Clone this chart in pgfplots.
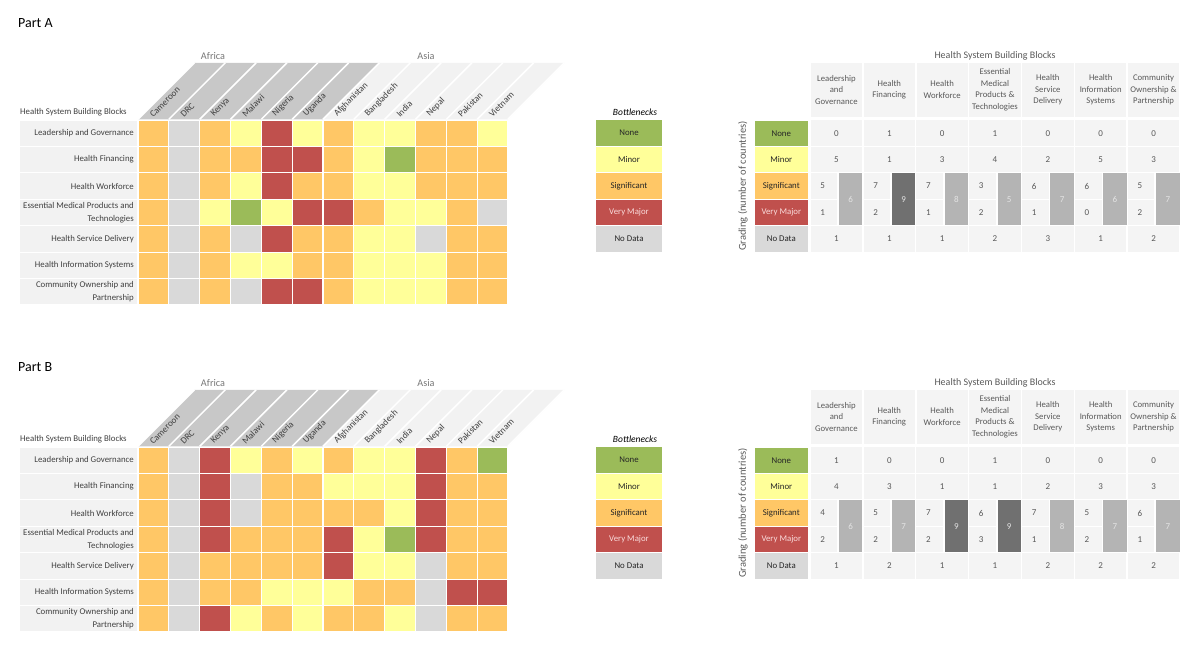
\documentclass[border=0pt]{standalone}
\usepackage{pgfplots}
\pgfplotsset{compat=1.18}
\usepackage{pgfplotstable}
\usepackage{fontspec}
\setmainfont{Carlito}

\definecolor{cNone}{RGB}{155,187,89}
\definecolor{cMinor}{RGB}{255,255,153}
\definecolor{cSig}{RGB}{255,199,102}
\definecolor{cVM}{RGB}{192,80,77}
\definecolor{cND}{RGB}{217,217,217}
\definecolor{lbg}{RGB}{242,242,242}
\definecolor{tbg}{RGB}{244,244,244}
\definecolor{afr}{RGB}{200,200,200}
\definecolor{txt}{RGB}{64,64,64}
\definecolor{dtxt}{RGB}{38,38,38}
\definecolor{num}{RGB}{89,89,89}
\definecolor{grayt}{RGB}{118,118,118}
\definecolor{barL}{RGB}{180,180,180}
\definecolor{barD}{RGB}{112,112,112}
\definecolor{bartxt}{RGB}{228,228,228}
\definecolor{vmtxt}{RGB}{250,220,220}

% ---------- data ----------
% heatmap: y = 6 - row (LG at top); codes N none, Mi minor, S significant, VM very major, ND no data
\pgfplotstableread{
y Cam DRC Ken Mal Nig Uga Afg Ban Ind Nep Pak Vie
6 S ND S Mi VM Mi S Mi Mi S S Mi
5 S ND S S VM VM S Mi N S S S
4 S ND S Mi VM S S Mi Mi S S S
3 S ND Mi N Mi VM VM S Mi Mi S ND
2 S ND S ND VM S S Mi Mi ND S S
1 S ND S Mi Mi S S Mi Mi Mi S S
0 S ND S ND VM VM S Mi Mi Mi S S
}\heatA
\pgfplotstableread{
y Cam DRC Ken Mal Nig Uga Afg Ban Ind Nep Pak Vie
6 S ND VM Mi S Mi S Mi Mi VM S N
5 S ND VM ND S S Mi Mi Mi VM S S
4 S ND VM ND S S S S Mi VM S S
3 S ND VM S S S VM Mi N VM S S
2 S ND S S S S VM Mi Mi ND S S
1 S ND S S Mi Mi Mi S S ND VM VM
0 S ND VM Mi S Mi S S Mi ND S S
}\heatB
% grading counts per building block
\pgfplotstableread{
x none minor sig vm nd tot shade
0 0 5 5 1 1 6 L
1 1 1 7 2 1 9 D
2 0 3 7 1 1 8 L
3 1 4 3 2 2 5 L
4 0 2 6 1 3 7 L
5 0 5 6 0 1 6 L
6 0 3 5 2 2 7 L
}\tabA
\pgfplotstableread{
x none minor sig vm nd tot shade
0 1 4 4 2 1 6 L
1 0 3 5 2 2 7 L
2 0 1 7 2 1 9 D
3 1 1 6 3 1 9 D
4 0 2 7 1 2 8 L
5 0 3 5 2 2 7 L
6 0 3 6 1 2 7 L
}\tabB

% ---------- helpers ----------
\newcommand{\pix}[2]{({(#1)*1pt},{(653-(#2))*1pt})}
\newcommand{\rowlbl}[1]{{\setlength{\fboxsep}{0pt}\colorbox{lbg}{\parbox[c][25.4pt][c]{114pt}{\raggedleft\fontsize{8.8}{13.5}\selectfont\color{txt}#1}\hspace{3pt}}}}
\newcommand{\gradelbl}[3]{{\setlength{\fboxsep}{0pt}\colorbox{#1}{\parbox[c][25.4pt][c]{53pt}{\centering\fontsize{8.8}{11}\selectfont\color{#2}#3}}}}
\newcommand{\hdr}[1]{{\setlength{\fboxsep}{0pt}\colorbox{tbg}{\parbox[c][54pt][c]{51.3pt}{\centering\fontsize{8.7}{11.7}\selectfont\color{num}#1}}}}
\newcommand{\legbox}[4]{\path \pix{629}{120.5+#1*26.43+12.7+\off} node[fill=#2, minimum width=66.3pt, minimum height=25.4pt, inner sep=0pt, text=#3, font=\fontsize{8.8}{10}\selectfont] {#4};}

\pgfplotsset{
  heatcell/.style={scatter, only marks, mark=square*, mark size=12.7pt,
    mark options={xscale=1.173, draw opacity=0}, point meta=explicit symbolic,
    scatter/classes={N={fill=cNone}, Mi={fill=cMinor},
      S={fill=cSig}, VM={fill=cVM}, ND={fill=cND}}},
  numcell/.style={only marks, mark=none, nodes near coords, point meta=explicit symbolic},
}

\newcommand{\panel}[3]{%
\def\off{#1}%
\path \pix{138}{120+\off} coordinate (hmpos);
\path \pix{810}{120+\off} coordinate (tbpos);
% region labels
\path \pix{213}{56+\off} node[font=\fontsize{10.2}{12}\selectfont, text=grayt, inner sep=0pt] {Africa};
\path \pix{426}{56+\off} node[font=\fontsize{10.2}{12}\selectfont, text=grayt, inner sep=0pt] {Asia};
% slanted country header bands
\foreach \i in {0,...,11}{%
  \pgfmathsetmacro\xa{138+\i*30.833}%
  \pgfmathsetmacro\xb{\xa+30.833}%
  \ifnum\i<6 \def\bc{afr}\else\def\bc{lbg}\fi
  \fill[\bc] \pix{\xa}{119.3+\off} -- \pix{\xb}{119.3+\off} -- \pix{\xb+56.5}{62.8+\off} -- \pix{\xa+56.5}{62.8+\off} -- cycle;
}%
\foreach \i in {0,...,12}{%
  \pgfmathsetmacro\xa{138+\i*30.833}%
  \draw[white, line width=1.5pt] \pix{\xa}{119.3+\off} -- \pix{\xa+56.5}{62.8+\off};
}%
\path \pix{20}{115+\off} node[anchor=base west, inner sep=0pt, font=\fontsize{8.8}{10}\selectfont, text=txt] {Health System Building Blocks};
% legend
\path \pix{635}{112+\off} node[font=\itshape\fontsize{9.5}{11}\selectfont, inner sep=0pt] {Bottlenecks};
\legbox{0}{cNone}{dtxt}{None}
\legbox{1}{cMinor}{dtxt}{Minor}
\legbox{2}{cSig}{dtxt}{Significant}
\legbox{3}{cVM}{vmtxt}{Very Major}
\legbox{4}{cND}{dtxt}{No Data}
% right table titles
\path \pix{995}{56+\off} node[font=\fontsize{10}{12}\selectfont, text=num, inner sep=0pt] {Health System Building Blocks};
\path \pix{743}{186+\off} node[rotate=90, font=\fontsize{10.5}{12}\selectfont, text=num, inner sep=0pt] {Grading (number of countries)};
% right table cell backgrounds
\foreach \c in {0,...,6}{%
  \pgfmathsetmacro\L{810.75+\c*52.857}%
  \foreach \r in {0,1,4}{%
    \pgfmathsetmacro\T{120.5+\r*26.43+\off}%
    \fill[tbg] \pix{\L}{\T} rectangle \pix{\L+51.4}{\T+25.4};
  }%
  \foreach \r in {2,3}{%
    \pgfmathsetmacro\T{120.5+\r*26.43+\off}%
    \fill[tbg] \pix{\L}{\T} rectangle \pix{\L+26.5}{\T+25.4};
  }%
}%
% heatmap
\begin{axis}[
  at={(hmpos)}, anchor=north west,
  width=370pt, height=185pt, scale only axis,
  xmin=-0.5, xmax=11.5, ymin=-0.5, ymax=6.5,
  axis line style={draw=none}, major tick length=0pt, tick style={draw=none},
  clip=false,
  xtick={0,...,11},
  xticklabels={Cameroon,DRC,Kenya,Malawi,Nigeria,Uganda,Afghanistan,Bangladesh,India,Nepal,Pakistan,Vietnam},
  xticklabel pos=right,
  xticklabel style={xshift=0pt, yshift=2pt, rotate=45, anchor=south west, inner sep=0pt, font=\fontsize{9.1}{10}\selectfont, text=txt},
  ytick={0,...,6},
  yticklabels={{\rowlbl{Community Ownership and\\Partnership}},{\rowlbl{Health Information Systems}},{\rowlbl{Health Service Delivery}},{\rowlbl{Essential Medical Products and\\Technologies}},{\rowlbl{Health Workforce}},{\rowlbl{Health Financing}},{\rowlbl{Leadership and Governance}}},
  yticklabel style={anchor=east, inner sep=0pt, xshift=-1pt},
]
\addplot[heatcell] table[x expr=0, y=y, meta=Cam] {#2};
\addplot[heatcell] table[x expr=1, y=y, meta=DRC] {#2};
\addplot[heatcell] table[x expr=2, y=y, meta=Ken] {#2};
\addplot[heatcell] table[x expr=3, y=y, meta=Mal] {#2};
\addplot[heatcell] table[x expr=4, y=y, meta=Nig] {#2};
\addplot[heatcell] table[x expr=5, y=y, meta=Uga] {#2};
\addplot[heatcell] table[x expr=6, y=y, meta=Afg] {#2};
\addplot[heatcell] table[x expr=7, y=y, meta=Ban] {#2};
\addplot[heatcell] table[x expr=8, y=y, meta=Ind] {#2};
\addplot[heatcell] table[x expr=9, y=y, meta=Nep] {#2};
\addplot[heatcell] table[x expr=10, y=y, meta=Pak] {#2};
\addplot[heatcell] table[x expr=11, y=y, meta=Vie] {#2};
\end{axis}
% grading table
\begin{axis}[
  at={(tbpos)}, anchor=north west,
  width=370pt, height=132.15pt, scale only axis,
  xmin=-0.5, xmax=6.5, ymin=-0.5, ymax=4.5,
  axis line style={draw=none}, major tick length=0pt, tick style={draw=none},
  clip=false,
  xtick={0,...,6},
  xticklabels={{\hdr{Leadership\\and\\Governance}},{\hdr{Health\\Financing}},{\hdr{Health\\Workforce}},{\hdr{Essential\\Medical\\Products \&\\Technologies}},{\hdr{Health\\Service\\Delivery}},{\hdr{Health\\Information\\Systems}},{\hdr{Community\\Ownership \&\\Partnership}}},
  xticklabel pos=right,
  xticklabel style={anchor=south, inner sep=0pt, yshift=3pt},
  ytick={0,...,4},
  yticklabels={{\gradelbl{cND}{dtxt}{No Data}},{\gradelbl{cVM}{vmtxt}{Very Major}},{\gradelbl{cSig}{dtxt}{Significant}},{\gradelbl{cMinor}{dtxt}{Minor}},{\gradelbl{cNone}{dtxt}{None}}},
  yticklabel style={anchor=east, inner sep=0pt, xshift=-2pt},
  every node near coord/.append style={anchor=center, font=\fontsize{9}{10}\selectfont, text=num},
]
\addplot[numcell] table[x=x, y expr=4, meta=none] {#3};
\addplot[numcell] table[x=x, y expr=3, meta=minor] {#3};
\addplot[numcell] table[x expr=\thisrow{x}-0.26, y expr=2, meta=sig] {#3};
\addplot[numcell] table[x expr=\thisrow{x}-0.26, y expr=1, meta=vm] {#3};
\addplot[numcell] table[x=x, y expr=0, meta=nd] {#3};
\addplot[scatter, only marks, mark=square*, mark size=11.75pt, mark options={yscale=2.226, draw opacity=0},
  point meta=explicit symbolic,
  scatter/classes={L={fill=barL}, D={fill=barD}}]
  table[x expr=\thisrow{x}+0.27, y expr=1.5, meta=shade] {#3};
\addplot[numcell, every node near coord/.append style={text=bartxt}]
  table[x expr=\thisrow{x}+0.27, y expr=1.5, meta=tot] {#3};
\end{axis}
}

\begin{document}
\begin{tikzpicture}
\useasboundingbox (0,0) rectangle (1200pt,653pt);
\path \pix{18}{23} node[anchor=west, inner sep=0pt, font=\fontsize{14}{16}\selectfont] {Part A};
\path \pix{18}{367} node[anchor=west, inner sep=0pt, font=\fontsize{14}{16}\selectfont] {Part B};
\panel{0}{\heatA}{\tabA}
\panel{327}{\heatB}{\tabB}
\end{tikzpicture}
\end{document}
